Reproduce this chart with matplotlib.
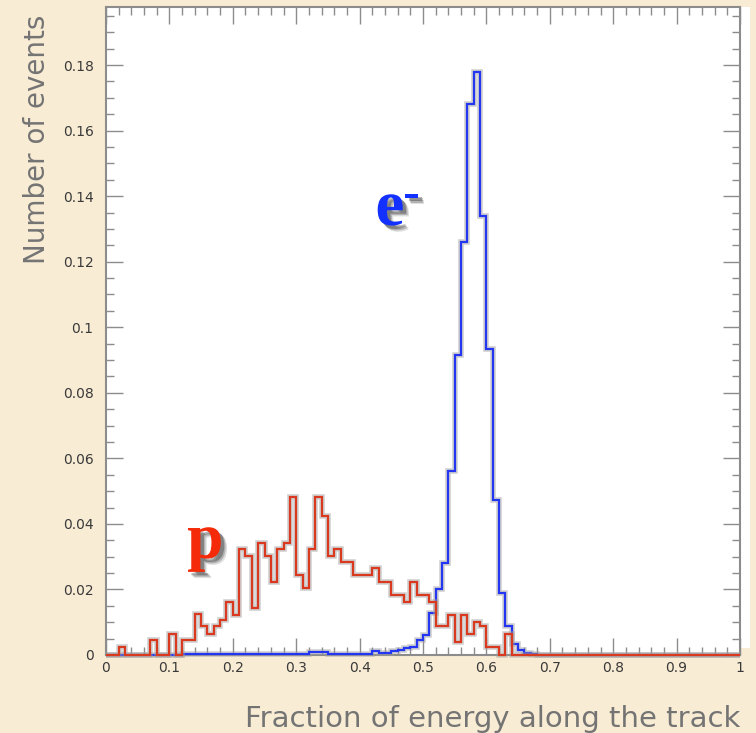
import numpy as np
import matplotlib
matplotlib.use("Agg")
import matplotlib.pyplot as plt
from matplotlib import patheffects as pe
from matplotlib.patches import Rectangle
from matplotlib.ticker import FixedLocator, MultipleLocator

# Histogram binning: 100 bins of width 0.01 on [0, 1]
bin_edges = np.linspace(0.0, 1.0, 101)

# Electron sample (normalised counts per bin)
electron_counts = [
    0, 0, 0, 0, 0, 0, 0, 0, 0, 0,
    0, 0, 0.0003, 0.0003, 0.0003, 0.0003, 0.0003, 0.0003, 0.0003, 0.0003,
    0.0003, 0.0003, 0.0003, 0.0003, 0.0003, 0.0003, 0.0003, 0.0003, 0.0003, 0.0003,
    0.0003, 0.0003, 0.001, 0.001, 0.001, 0.0003, 0.0003, 0.0003, 0.0003, 0.0003,
    0.0003, 0.0003, 0.0012, 0.0005, 0.0005, 0.0012, 0.0015, 0.002, 0.0025, 0.0046,
    0.006, 0.0127, 0.020, 0.028, 0.056, 0.0915, 0.126, 0.168, 0.178, 0.134,
    0.0935, 0.0473, 0.019, 0.0087, 0.0034, 0.0015, 0.0006, 0.0003, 0, 0,
    0, 0, 0, 0, 0, 0, 0, 0, 0, 0,
    0, 0, 0, 0, 0, 0, 0, 0, 0, 0,
    0, 0, 0, 0, 0, 0, 0, 0, 0, 0,
]

# Proton sample (normalised counts per bin)
proton_counts = [
    0, 0, 0.0023, 0, 0, 0, 0, 0.0046, 0, 0,
    0.0064, 0, 0.0046, 0.0046, 0.0125, 0.0087, 0.0064, 0.0087, 0.0107, 0.0163,
    0.0122, 0.0322, 0.0302, 0.0142, 0.0343, 0.0302, 0.0224, 0.0322, 0.0343, 0.0483,
    0.0244, 0.0203, 0.0322, 0.0483, 0.0424, 0.0302, 0.0322, 0.0285, 0.0285, 0.0244,
    0.0244, 0.0244, 0.0264, 0.0224, 0.0224, 0.0183, 0.0183, 0.0163, 0.0224, 0.0183,
    0.0183, 0.0163, 0.0087, 0.0087, 0.0122, 0.0041, 0.0122, 0.0064, 0.0102, 0.0087,
    0.0025, 0.0025, 0, 0.0064, 0, 0, 0, 0, 0, 0,
    0, 0, 0, 0, 0, 0, 0, 0, 0, 0,
    0, 0, 0, 0, 0, 0, 0, 0, 0, 0,
    0, 0, 0, 0, 0, 0, 0, 0, 0, 0,
]

x_ticks = [0, 0.1, 0.2, 0.3, 0.4, 0.5, 0.6, 0.7, 0.8, 0.9, 1.0]
x_tick_labels = ["0", "0.1", "0.2", "0.3", "0.4", "0.5", "0.6", "0.7", "0.8", "0.9", "1"]
y_ticks = [0, 0.02, 0.04, 0.06, 0.08, 0.10, 0.12, 0.14, 0.16, 0.18]
y_tick_labels = ["0", "0.02", "0.04", "0.06", "0.08", "0.1", "0.12", "0.14", "0.16", "0.18"]

W, H = 756, 733
BG = "#f9ecd4"
BLUE = "#2536f2"
RED = "#d8391f"
LABEL_BLUE = "#1230ff"
LABEL_RED = "#f42a08"
AXIS_GREY = "#8c8c8c"

fig = plt.figure(figsize=(W / 100, H / 100), dpi=100, facecolor=BG)

# White plotting pad (extends a little past the right frame edge)
fig.patches.append(Rectangle((106 / W, 1 - 648 / H), (750 - 106) / W, (648 - 7) / H,
                             transform=fig.transFigure, facecolor="white",
                             edgecolor="none", zorder=-10))

ax = fig.add_axes([106 / W, 1 - 655 / H, (740 - 106) / W, (655 - 7) / H])
ax.set_facecolor("white")
ax.set_xlim(0, 1)
ax.set_ylim(0, 0.1977)

halo = [pe.Stroke(linewidth=4.0, foreground="#a0a0a0", alpha=0.5), pe.Normal()]
ax.stairs(electron_counts, bin_edges, color=BLUE, linewidth=1.6,
          path_effects=halo, clip_on=False, zorder=3)
ax.stairs(proton_counts, bin_edges, color=RED, linewidth=1.6,
          path_effects=halo, clip_on=False, zorder=4)

# Frame and ticks
for s in ax.spines.values():
    s.set_color(AXIS_GREY)
    s.set_linewidth(1.5)

ax.xaxis.set_major_locator(FixedLocator(x_ticks))
ax.set_xticklabels(x_tick_labels)
ax.xaxis.set_minor_locator(MultipleLocator(0.02))
ax.yaxis.set_major_locator(FixedLocator(y_ticks))
ax.set_yticklabels(y_tick_labels)
ax.yaxis.set_minor_locator(MultipleLocator(0.005))

ax.tick_params(which="both", direction="in", top=True, right=True,
               color=AXIS_GREY, width=1.0, labelcolor="#3a3a3a",
               labelsize=10)
ax.tick_params(which="major", length=12)
ax.tick_params(which="minor", length=6)
ax.tick_params(axis="y", which="major", pad=9)
ax.tick_params(axis="x", which="major", pad=4)

# Axis titles
fig.text(740 / W, 1 - 727 / H, "Fraction of energy along the track",
         ha="right", va="baseline", fontsize=21, color="#747474",
         family="DejaVu Sans")
fig.text(37 / W, 1 - 15 / H, "Number of events", rotation=90,
         ha="center", va="top", fontsize=20, color="#747474",
         family="DejaVu Sans")

# Particle labels with a soft drop shadow
shadow = [
    pe.SimplePatchShadow(offset=(4.5, -4.5), shadow_rgbFace="black", alpha=0.12),
    pe.SimplePatchShadow(offset=(3.5, -3.5), shadow_rgbFace="black", alpha=0.2),
    pe.SimplePatchShadow(offset=(2.5, -2.5), shadow_rgbFace="black", alpha=0.28),
    pe.Normal(),
]
ax.text(0.425, 0.1312, "e", color=LABEL_BLUE, fontsize=47, fontweight="bold",
        family="Liberation Serif", ha="left", va="baseline",
        path_effects=shadow, zorder=5)
ax.text(0.482, 0.1402, "-", color=LABEL_BLUE, fontsize=36, fontweight="bold",
        family="Liberation Serif", ha="center", va="center",
        path_effects=shadow, zorder=5)
ax.text(0.128, 0.0296, "p", color=LABEL_RED, fontsize=47, fontweight="bold",
        family="Liberation Serif", ha="left", va="baseline",
        path_effects=shadow, zorder=5)

fig.savefig("out.png", dpi=100, facecolor=BG)
